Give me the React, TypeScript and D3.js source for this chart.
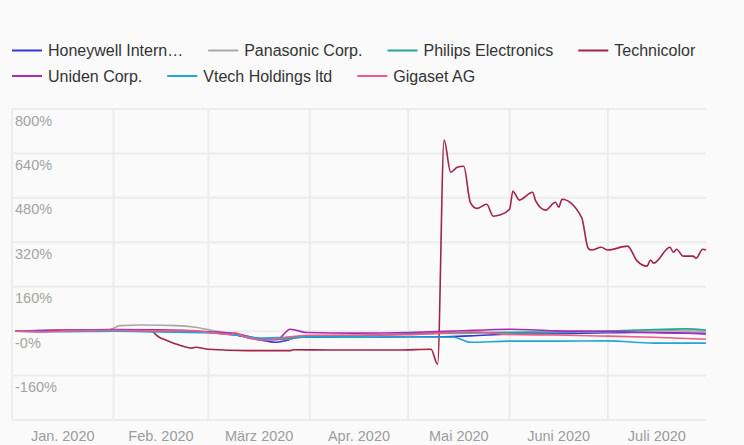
import React, { useRef, useEffect } from 'react';
import * as d3 from 'd3';

const seriesNames = [
  'Honeywell Intern…',
  'Panasonic Corp.',
  'Philips Electronics',
  'Technicolor',
  'Uniden Corp.',
  'Vtech Holdings ltd',
  'Gigaset AG',
];
const seriesColors = ['#3535dc', '#a9a9a3', '#26a39b', '#a3234a', '#a82bb5', '#21a6d6', '#ec5c87'];

const honeywell: [string, number][] = [
  ['2020-01-02', 0], ['2020-01-15', 1], ['2020-02-01', 4], ['2020-02-14', 2], ['2020-03-01', -5],
  ['2020-03-09', -14], ['2020-03-16', -30], ['2020-03-22', -40], ['2020-03-25', -33], ['2020-03-28', -22],
  ['2020-04-06', -22], ['2020-04-20', -22], ['2020-05-01', -20], ['2020-05-12', -20], ['2020-05-20', -17],
  ['2020-06-03', -10], ['2020-06-15', -9], ['2020-07-01', -6], ['2020-07-15', -4], ['2020-07-31', -10],
];
const panasonic: [string, number][] = [
  ['2020-01-02', 0], ['2020-01-20', 3], ['2020-01-31', 6], ['2020-02-03', 20], ['2020-02-10', 22],
  ['2020-02-20', 20], ['2020-02-26', 14], ['2020-03-03', 0], ['2020-03-10', -12], ['2020-03-17', -28],
  ['2020-03-24', -30], ['2020-04-01', -18], ['2020-04-15', -16], ['2020-05-01', -10], ['2020-05-15', -8],
  ['2020-06-01', -6], ['2020-06-15', -5], ['2020-07-01', -2], ['2020-07-15', 2], ['2020-07-31', 0],
];
const philips: [string, number][] = [
  ['2020-01-02', 0], ['2020-01-20', 2], ['2020-02-01', 3], ['2020-02-15', 0], ['2020-03-01', -4],
  ['2020-03-10', -14], ['2020-03-16', -28], ['2020-03-22', -30], ['2020-04-01', -20], ['2020-04-15', -18],
  ['2020-05-01', -10], ['2020-05-15', -6], ['2020-06-01', -4], ['2020-06-15', -3], ['2020-07-01', 0],
  ['2020-07-15', 6], ['2020-07-25', 8], ['2020-07-31', 4],
];
const technicolor: [string, number][] = [
  ['2020-01-02', 0], ['2020-01-15', 3], ['2020-02-01', 5], ['2020-02-12', 3], ['2020-02-15', -22],
  ['2020-02-17', -32], ['2020-02-21', -50], ['2020-02-25', -61], ['2020-02-26', -58], ['2020-03-01', -65],
  ['2020-03-13', -70], ['2020-03-26', -70], ['2020-03-27', -67], ['2020-04-07', -68], ['2020-04-28', -68],
  ['2020-05-08', -65], ['2020-05-10', -119], ['2020-05-12', 688], ['2020-05-14', 572], ['2020-05-16', 590],
  ['2020-05-18', 594], ['2020-05-20', 464], ['2020-05-22', 442], ['2020-05-25', 457], ['2020-05-27', 414],
  ['2020-05-29', 418], ['2020-06-01', 439], ['2020-06-02', 504], ['2020-06-04', 472], ['2020-06-08', 500],
  ['2020-06-09', 468], ['2020-06-12', 436], ['2020-06-15', 464], ['2020-06-16', 446], ['2020-06-17', 475],
  ['2020-06-23', 410], ['2020-06-25', 299], ['2020-06-26', 292], ['2020-06-29', 302], ['2020-07-01', 292],
  ['2020-07-07', 306], ['2020-07-10', 252], ['2020-07-13', 234], ['2020-07-14', 256], ['2020-07-15', 245],
  ['2020-07-20', 302], ['2020-07-21', 284], ['2020-07-22', 295], ['2020-07-24', 270], ['2020-07-27', 270],
  ['2020-07-28', 263], ['2020-07-30', 295], ['2020-07-31', 292],
];
const uniden: [string, number][] = [
  ['2020-01-02', 0], ['2020-01-15', 3], ['2020-02-01', 6], ['2020-02-15', 5], ['2020-03-01', -2],
  ['2020-03-10', -10], ['2020-03-17', -28], ['2020-03-22', -30], ['2020-03-26', 7], ['2020-03-31', -5],
  ['2020-04-15', -7], ['2020-05-01', -5], ['2020-05-15', 0], ['2020-06-01', 7], ['2020-06-15', 1],
  ['2020-07-01', -1], ['2020-07-15', -6], ['2020-07-31', -8],
];
const vtech: [string, number][] = [
  ['2020-01-02', 0], ['2020-01-15', -2], ['2020-02-01', 0], ['2020-02-15', -3], ['2020-03-01', -6],
  ['2020-03-10', -15], ['2020-03-17', -25], ['2020-03-25', -22], ['2020-04-01', -20], ['2020-04-15', -22],
  ['2020-05-01', -20], ['2020-05-15', -22], ['2020-05-20', -40], ['2020-06-01', -36], ['2020-06-15', -36],
  ['2020-07-01', -35], ['2020-07-15', -43], ['2020-07-31', -43],
];
const gigaset: [string, number][] = [
  ['2020-01-02', 0], ['2020-01-10', -3], ['2020-01-20', 2], ['2020-02-01', 3], ['2020-02-15', 1],
  ['2020-02-25', 2], ['2020-03-01', -4], ['2020-03-08', -12], ['2020-03-09', -6], ['2020-03-12', -20],
  ['2020-03-18', -32], ['2020-03-22', -28], ['2020-03-26', -20], ['2020-04-01', -15], ['2020-04-15', -14],
  ['2020-05-01', -13], ['2020-05-10', -8], ['2020-05-20', -2], ['2020-06-01', -12], ['2020-06-15', -14],
  ['2020-07-01', -18], ['2020-07-15', -22], ['2020-07-31', -29],
];
const allSeries = [honeywell, panasonic, philips, technicolor, uniden, vtech, gigaset];

const yGrid = [-320, -160, 0, 160, 320, 480, 640, 800];
const yTicks = [-160, 0, 160, 320, 480, 640, 800];
const yTickLabels = ['-160%', '-0%', '160%', '320%', '480%', '640%', '800%'];
const monthLabels = ['Jan. 2020', 'Feb. 2020', 'März 2020', 'Apr. 2020', 'Mai 2020', 'Juni 2020', 'Juli 2020'];

const width = 744;
const height = 445;
const plot = { left: 12, right: 706, top: 109, bottom: 420 };
const font = '"Liberation Sans", Arial, Helvetica, sans-serif';

export default function App() {
  const svgRef = useRef<SVGSVGElement>(null);

  useEffect(() => {
    const svg = d3.select(svgRef.current);
    svg.selectAll('*').remove();
    const parse = d3.utcParse('%Y-%m-%d');
    const start = new Date(Date.UTC(2020, 0, 1));
    const end = new Date(Date.UTC(2020, 6, 31));

    const x = d3.scaleUtc().domain([start, end]).range([plot.left, plot.right]);
    const y = d3.scaleLinear().domain([-320, 800]).range([plot.bottom, plot.top]);

    svg.append('rect').attr('width', width).attr('height', height).attr('fill', '#fafafa');

    // grid
    const grid = svg.append('g').attr('stroke', '#ececec').attr('stroke-width', 2);
    grid.selectAll('line.h').data(yGrid).join('line')
      .attr('x1', plot.left).attr('x2', plot.right)
      .attr('y1', (d) => y(d)).attr('y2', (d) => y(d));
    const months = d3.utcMonth.range(start, end);
    grid.selectAll('line.v').data(months).join('line')
      .attr('x1', (d) => x(d)).attr('x2', (d) => x(d))
      .attr('y1', plot.top).attr('y2', plot.bottom);

    // y labels
    svg.append('g').selectAll('text').data(yTicks).join('text')
      .attr('x', plot.left + 3).attr('y', (d) => y(d) + 16.5)
      .attr('font-family', font).attr('font-size', 14.5).attr('fill', '#a3a3a3')
      .text((d, i) => yTickLabels[i]);

    // x labels centered in month bands
    svg.append('g').selectAll('text').data(months).join('text')
      .attr('x', (d) => {
        const next = d3.utcMonth.offset(d, 1);
        return (x(d) + x(next > end ? end : next)) / 2;
      })
      .attr('y', 441).attr('text-anchor', 'middle')
      .attr('font-family', font).attr('font-size', 14.5).attr('fill', '#9c9c9c')
      .text((d, i) => monthLabels[i]);

    // lines
    const line = d3.line<[string, number]>()
      .x((d) => x(parse(d[0]) as Date))
      .y((d) => y(d[1]))
      .curve(d3.curveMonotoneX);
    allSeries.forEach((s, i) => {
      svg.append('path').datum(s)
        .attr('d', line)
        .attr('fill', 'none')
        .attr('stroke', seriesColors[i])
        .attr('stroke-width', 1.6)
        .attr('stroke-linejoin', 'round');
    });

    // legend, flowing layout
    const legend = svg.append('g');
    let lx = 12;
    let row = 0;
    seriesNames.forEach((name, i) => {
      const item = legend.append('g');
      item.append('line')
        .attr('x1', 0).attr('x2', 30).attr('y1', 0).attr('y2', 0)
        .attr('stroke', seriesColors[i]).attr('stroke-width', 2);
      const t = item.append('text')
        .attr('x', 36).attr('y', 5.5)
        .attr('font-family', font).attr('font-size', 16).attr('fill', '#333')
        .text(name);
      const w = 36 + (t.node() as SVGTextElement).getComputedTextLength();
      if (lx + w > 720) {
        lx = 12;
        row += 1;
      }
      item.attr('transform', `translate(${lx},${50.5 + row * 25.5})`);
      lx += w + 25;
    });
  }, []);

  return (
    <svg
      ref={svgRef}
      width={width}
      height={height}
      style={{ position: 'absolute', left: 0, top: 0, display: 'block' }}
    />
  );
}
